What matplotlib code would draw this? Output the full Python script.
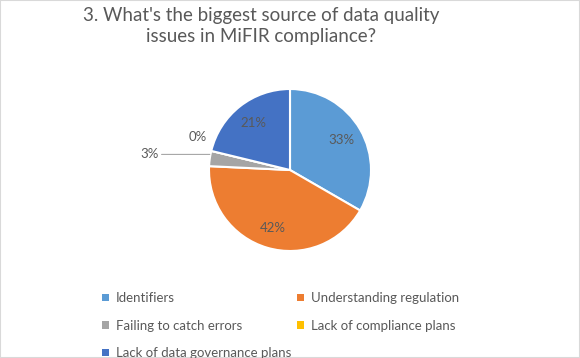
import numpy as np
import matplotlib.pyplot as plt
from matplotlib.patches import Rectangle

categorias = ['Identifiers', 'Understanding regulation', 'Failing to catch errors',
              'Lack of compliance plans', 'Lack of data governance plans']
valores = [33, 42, 3, 0, 21]
colores = ['#5B9BD5', '#ED7D31', '#A5A5A5', '#FFC000', '#4472C4']
titulo = "3. What's the biggest source of data quality\nissues in MiFIR compliance?"

gris = '#595959'
plt.rcParams['font.family'] = ['Lato', 'DejaVu Sans']

fig = plt.figure(figsize=(5.8, 3.58), dpi=100)
fig.patch.set_facecolor('white')
fig.patches.append(Rectangle((0, 0), 1, 1, transform=fig.transFigure, fill=False,
                             edgecolor='#d9d9d9', linewidth=1.5))

# eje del pastel: centro (290,170) px, radio 81 px
r = 81
ax = fig.add_axes([(290 - r) / 580, (358 - 170 - r) / 358, 2 * r / 580, 2 * r / 358])
cuñas, textos, pcts = ax.pie(valores, colors=colores, startangle=90, counterclock=False,
                             autopct=lambda p: f'{p:.0f}%', pctdistance=0.74,
                             wedgeprops=dict(edgecolor='white', linewidth=1.5),
                             textprops=dict(color=gris, fontsize=9.5))
ax.set_xlim(-1, 1)
ax.set_ylim(-1, 1)
ax.set_aspect('equal')

# etiquetas pequeñas fuera del pastel
total = sum(valores)
for i in (2, 3):
    pcts[i].set_visible(False)
w = cuñas[2]
ang = np.deg2rad((w.theta1 + w.theta2) / 2)
x0, y0 = np.cos(ang), np.sin(ang) + 0.05
ax.annotate(f'{valores[2] / total * 100:.0f}%', xy=(x0, y0), xytext=(-1.62, y0),
            ha='right', va='center', color=gris, fontsize=9.5,
            arrowprops=dict(arrowstyle='-', color='#a6a6a6', lw=0.8,
                            shrinkA=0, shrinkB=0), annotation_clip=False)
w = cuñas[3]
ang = np.deg2rad(w.theta1)
ax.text(1.22 * np.cos(ang) + 0.05, 1.22 * np.sin(ang) + 0.12,
        f'{valores[3] / total * 100:.0f}%', ha='center', va='center',
        color=gris, fontsize=9.5)

fig.text(261 / 580, 0.98, titulo, ha='center', va='top', fontsize=13.5, color=gris,
         linespacing=1.25)

# leyenda en filas, como Excel
orden = [0, 2, 4, 1, 3]
ley = fig.legend([cuñas[i] for i in orden], [categorias[i] for i in orden],
                 ncol=2, loc='upper left', bbox_to_anchor=(0.176, 0.184),
                 frameon=False, fontsize=9.5, labelcolor=gris,
                 handlelength=0.5, handleheight=0.5, handletextpad=0.55,
                 columnspacing=0.45, labelspacing=1.18, borderaxespad=0,
                 borderpad=0)
for h in ley.legend_handles:
    h.set_edgecolor('none')

fig.savefig('out.png', dpi=100)
